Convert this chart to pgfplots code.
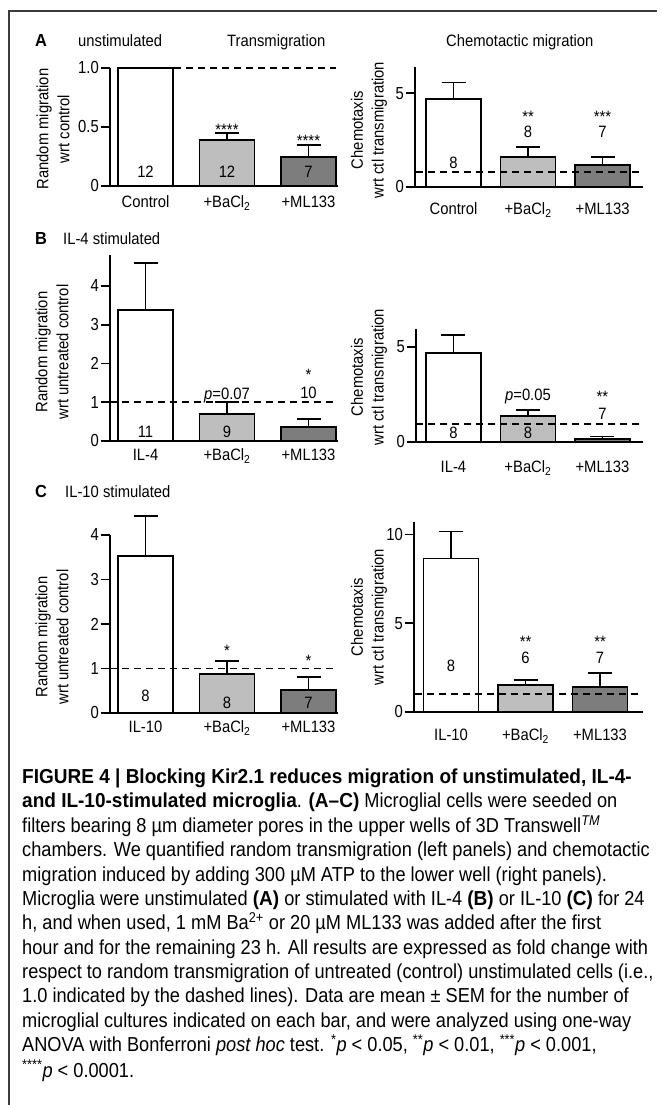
\documentclass[border=0pt]{standalone}
\usepackage{fontspec}
\setmainfont{Liberation Sans}[FakeStretch=0.9, BoldFeatures={FakeStretch=0.94}]
\newfontfamily\chartfam{Liberation Sans}[FakeStretch=0.9]
\newfontfamily\tickfam{Liberation Sans}[FakeStretch=0.85]
\usepackage{pgfplots}
\pgfplotsset{compat=1.18}
\definecolor{lgray}{RGB}{190,190,190}
\definecolor{dgray}{RGB}{125,125,125}
\definecolor{framec}{RGB}{60,60,60}
\newcommand{\cf}{\chartfam\fontsize{16.5}{21}\selectfont}
\newcommand{\tf}{\tickfam\fontsize{17.5}{21}\selectfont}
\newcommand{\capf}{\fontsize{20.3}{24}\selectfont}
\tikzset{
  txt/.style={inner sep=0pt, font=\cf},
  ann/.style={inner sep=0pt, font=\cf, anchor=base},
  capl/.style={inner sep=0pt, font=\capf, anchor=base west},
  plet/.style={inner sep=0pt, anchor=base west, font=\bfseries\fontsize{17.5}{21}\selectfont},
}
\pgfplotsset{
  panel/.style={
    scale only axis, clip=false, anchor=south west,
    axis lines*=left,
    axis line style={line width=1.8bp, black},
    xtick=\empty,
    tick align=outside,
    major tick length=9bp,
    ytick style={line width=1.8bp, black},
    yticklabel style={font=\tf, inner sep=1bp, xshift=-1bp},
  },
  mybar/.style={ybar, bar width=55bp, bar shift=0pt, draw=black, line width=1.7bp, fill=#1},
  errb/.style={error bars/.cd, y dir=plus, y explicit,
    error bar style={line width=1.7bp, black},
    error mark options={rotate=90, mark size=12bp, line width=1.7bp, black}},
  dashref/.style={black, line width=1.6bp, dash pattern=on 7bp off 5bp, mark=none},
}
\begin{document}
\begin{tikzpicture}
\path[use as bounding box] (0,0) rectangle (662bp,1105bp);
\draw[framec, line width=1.5bp] (9bp,0bp) -- (9bp,1094bp) -- (657bp,1094bp);

% ---------- A left ----------
\begin{axis}[panel, at={(110bp,919bp)}, width=228bp, height=118bp,
  xmin=-0.4356, xmax=2.362, ymin=0, ymax=1, ytick={0,0.5,1}, yticklabels={0,0.5,1.0}]
\addplot[mybar=white] coordinates {(0,1.0)};
\addplot[mybar=lgray, errb] coordinates {(1,0.39) +- (0,0.06)};
\addplot[mybar=dgray, errb] coordinates {(2,0.246) +- (0,0.104)};
\addplot[dashref] coordinates {(0.35,1) (2.34,1)};
\node[ann] at (axis cs:0,0.068) {12};
\node[ann] at (axis cs:1,0.068) {12};
\node[ann] at (axis cs:2,0.068) {7};
\node[ann] at (axis cs:1,0.428) {****};
\node[ann] at (axis cs:2,0.335) {****};
\node[ann] at ([yshift=-22bp]axis cs:0,0) {Control};
\node[ann] at ([yshift=-22bp]axis cs:1,0) {+BaCl\textsubscript{2}};
\node[ann] at ([yshift=-22bp]axis cs:2,0) {+ML133};
\end{axis}

% ---------- A right ----------
\begin{axis}[panel, at={(415bp,918bp)}, width=228bp, height=120bp,
  xmin=-0.517, xmax=2.543, ymin=0, ymax=6.4, ytick={0,5}, yticklabels={0,5}]
\addplot[mybar=white, errb] coordinates {(0,4.68) +- (0,0.9)};
\addplot[mybar=lgray, errb] coordinates {(1,1.6) +- (0,0.53)};
\addplot[mybar=dgray, errb] coordinates {(2,1.17) +- (0,0.43)};
\addplot[dashref] coordinates {(-0.5,0.8) (2.52,0.8)};
\node[ann] at (axis cs:0,1.01) {8};
\node[ann] at (axis cs:1,3.45) {**};
\node[ann] at (axis cs:1,2.64) {8};
\node[ann] at (axis cs:2,3.45) {***};
\node[ann] at (axis cs:2,2.64) {7};
\node[ann] at ([yshift=-28bp]axis cs:0,0) {Control};
\node[ann] at ([yshift=-28bp]axis cs:1,0) {+BaCl\textsubscript{2}};
\node[ann] at ([yshift=-28bp]axis cs:2,0) {+ML133};
\end{axis}

% ---------- B left ----------
\begin{axis}[panel, at={(110bp,664bp)}, width=228bp, height=186bp,
  xmin=-0.4356, xmax=2.362, ymin=0, ymax=4.8, ytick={0,1,2,3,4}, yticklabels={0,1,2,3,4}]
\addplot[mybar=white, errb] coordinates {(0,3.38) +- (0,1.21)};
\addplot[mybar=lgray, errb] coordinates {(1,0.70) +- (0,0.30)};
\addplot[mybar=dgray, errb] coordinates {(2,0.36) +- (0,0.21)};
\addplot[dashref] coordinates {(-0.4356,1) (2.34,1)};
\node[ann] at (axis cs:0,0.1) {11};
\node[ann] at (axis cs:1,0.1) {9};
\node[ann] at (axis cs:1,1.06) {\textit{p}=0.07};
\node[ann] at (axis cs:2,1.55) {*};
\node[ann] at (axis cs:2,1.10) {10};
\node[ann] at ([yshift=-20bp]axis cs:0,0) {IL-4};
\node[ann] at ([yshift=-20bp]axis cs:1,0) {+BaCl\textsubscript{2}};
\node[ann] at ([yshift=-20bp]axis cs:2,0) {+ML133};
\end{axis}

% ---------- B right ----------
\begin{axis}[panel, at={(416bp,663bp)}, width=227bp, height=113bp,
  xmin=-0.503, xmax=2.544, ymin=0, ymax=5.95, ytick={0,5}, yticklabels={0,5}]
\addplot[mybar=white, errb] coordinates {(0,4.68) +- (0,0.95)};
\addplot[mybar=lgray, errb] coordinates {(1,1.37) +- (0,0.31)};
\addplot[mybar=dgray, errb] coordinates {(2,0.17) +- (0,0.12)};
\addplot[dashref] coordinates {(-0.5,0.95) (2.52,0.95)};
\node[ann] at (axis cs:0,0.2) {8};
\node[ann] at (axis cs:1,0.2) {8};
\node[ann] at (axis cs:1,2.16) {\textit{p}=0.05};
\node[ann] at (axis cs:2,2.1) {**};
\node[ann] at (axis cs:2,1.2) {7};
\node[ann] at ([yshift=-31bp]axis cs:0,0) {IL-4};
\node[ann] at ([yshift=-31bp]axis cs:1,0) {+BaCl\textsubscript{2}};
\node[ann] at ([yshift=-31bp]axis cs:2,0) {+ML133};
\end{axis}

% ---------- C left ----------
\begin{axis}[panel, at={(110bp,392bp)}, width=228bp, height=178bp,
  xmin=-0.4356, xmax=2.362, ymin=0, ymax=4, ytick={0,1,2,3,4}, yticklabels={0,1,2,3,4}]
\addplot[mybar=white, errb] coordinates {(0,3.53) +- (0,0.9)};
\addplot[mybar=lgray, errb] coordinates {(1,0.88) +- (0,0.29)};
\addplot[mybar=dgray, errb] coordinates {(2,0.52) +- (0,0.29)};
\addplot[dashref] coordinates {(-0.4356,1) (2.34,1)};
\node[ann] at (axis cs:0,0.25) {8};
\node[ann] at (axis cs:1,0.11) {8};
\node[ann] at (axis cs:2,0.11) {7};
\node[ann] at (axis cs:1,1.27) {*};
\node[ann] at (axis cs:2,1.04) {*};
\node[ann] at ([yshift=-20bp]axis cs:0,0) {IL-10};
\node[ann] at ([yshift=-20bp]axis cs:1,0) {+BaCl\textsubscript{2}};
\node[ann] at ([yshift=-20bp]axis cs:2,0) {+ML133};
\end{axis}

% ---------- C right ----------
\begin{axis}[panel, at={(414bp,393bp)}, width=229bp, height=190bp,
  xmin=-0.497, xmax=2.577, ymin=0, ymax=10.7, ytick={0,5,10}, yticklabels={0,5,10}]
\addplot[mybar=white, errb] coordinates {(0,8.65) +- (0,1.52)};
\addplot[mybar=lgray, errb] coordinates {(1,1.52) +- (0,0.28)};
\addplot[mybar=dgray, errb] coordinates {(2,1.4) +- (0,0.8)};
\addplot[dashref] coordinates {(-0.49,1) (2.55,1)};
\node[ann] at (axis cs:0,2.3) {8};
\node[ann] at (axis cs:1,3.62) {**};
\node[ann] at (axis cs:1,2.75) {6};
\node[ann] at (axis cs:2,3.62) {**};
\node[ann] at (axis cs:2,2.75) {7};
\node[ann] at ([yshift=-29bp]axis cs:0,0) {IL-10};
\node[ann] at ([yshift=-29bp]axis cs:1,0) {+BaCl\textsubscript{2}};
\node[ann] at ([yshift=-29bp]axis cs:2,0) {+ML133};
\end{axis}

% ---------- titles ----------
\node[plet] at (35bp,1058bp) {A};
\node[txt, anchor=base west] at (78bp,1058bp) {unstimulated};
\node[txt, anchor=base west] at (227bp,1058bp) {Transmigration};
\node[txt, anchor=base west] at (446bp,1058bp) {Chemotactic migration};
\node[plet] at (35bp,860bp) {B};
\node[txt, anchor=base west] at (63bp,860bp) {IL-4 stimulated};
\node[plet] at (35bp,607bp) {C};
\node[txt, anchor=base west] at (65bp,607bp) {IL-10 stimulated};

% ---------- y labels ----------
\node[txt, rotate=90, align=center] at (53bp,976bp) {Random migration\\wrt control};
\node[txt, rotate=90, align=center] at (369bp,975bp) {Chemotaxis\\wrt ctl transmigration};
\node[txt, rotate=90, align=center] at (52bp,753bp) {Random migration\\wrt untreated control};
\node[txt, rotate=90, align=center] at (369bp,728bp) {Chemotaxis\\wrt ctl transmigration};
\node[txt, rotate=90, align=center] at (52bp,468bp) {Random migration\\wrt untreated control};
\node[txt, rotate=90, align=center] at (369bp,488bp) {Chemotaxis\\wrt ctl transmigration};

% ---------- caption ----------
\node[capl] at (22bp,321bp) {\textbf{FIGURE 4 | Blocking Kir2.1 reduces migration of unstimulated, IL-4-}};
\node[capl] at (22bp,297bp) {\textbf{and IL-10-stimulated microglia}. \textbf{(A–C)} Microglial cells were seeded on};
\node[capl] at (22bp,272bp) {filters bearing 8 µm diameter pores in the upper wells of 3D Transwell\textsuperscript{\textit{TM}}};
\node[capl] at (22bp,248bp) {chambers. We quantified random transmigration (left panels) and chemotactic};
\node[capl] at (22bp,223bp) {migration induced by adding 300 µM ATP to the lower well (right panels).};
\node[capl] at (22bp,199bp) {Microglia were unstimulated \textbf{(A)} or stimulated with IL-4 \textbf{(B)} or IL-10 \textbf{(C)} for 24};
\node[capl] at (22bp,175bp) {h, and when used, 1 mM Ba\textsuperscript{2+} or 20 µM ML133 was added after the first};
\node[capl] at (22bp,150bp) {hour and for the remaining 23 h. All results are expressed as fold change with};
\node[capl] at (22bp,126bp) {respect to random transmigration of untreated (control) unstimulated cells (i.e.,};
\node[capl] at (22bp,102bp) {1.0 indicated by the dashed lines). Data are mean ± SEM for the number of};
\node[capl] at (22bp,77bp) {microglial cultures indicated on each bar, and were analyzed using one-way};
\node[capl] at (22bp,53bp) {ANOVA with Bonferroni \textit{post hoc} test. \textsuperscript{*}\textit{p} < 0.05, \textsuperscript{**}\textit{p} < 0.01, \textsuperscript{***}\textit{p} < 0.001,};
\node[capl] at (22bp,28bp) {\textsuperscript{****}\textit{p} < 0.0001.};
\end{tikzpicture}
\end{document}
